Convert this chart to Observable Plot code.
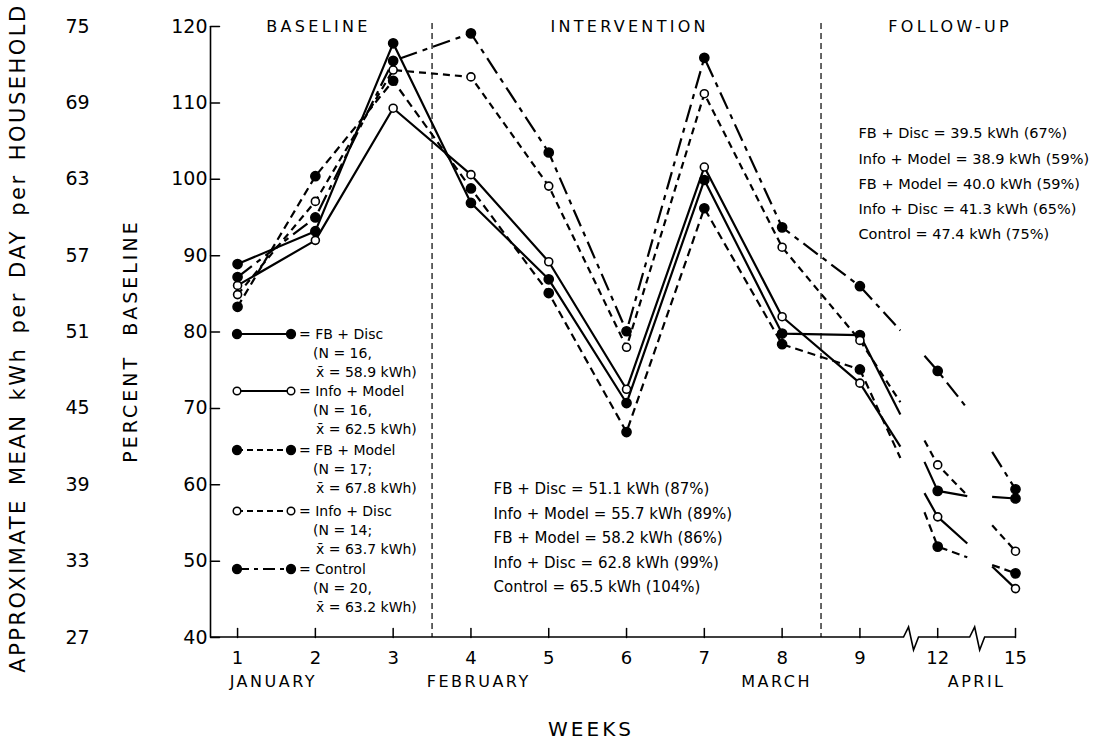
<!DOCTYPE html>
<html><head><meta charset="utf-8">
<script src="https://cdn.jsdelivr.net/npm/d3@7"></script>
<script src="https://cdn.jsdelivr.net/npm/@observablehq/plot@0.6"></script>
<style>
body{margin:0;background:#fff;}
svg text{font-family:"DejaVu Sans",sans-serif;fill:#000;}
</style></head><body><div id="chart"></div>
<script>
// ---- data ----
const weekLabels = ["1","2","3","4","5","6","7","8","9","12","15"];
const positions  = [1,2,3,4,5,6,7,8,9,10,11];
const seriesNames = ["FB + Disc","Info + Model","FB + Model","Info + Disc","Control"];
const fbDisc    = [88.9, 93.2, 117.8, 96.9, 86.9, 70.7, 99.9, 79.8, 79.6, 59.2, 58.2];
const infoModel = [86.1, 92.0, 109.3, 100.6, 89.2, 72.5, 101.6, 82.0, 73.3, 55.8, 46.4];
const fbModel   = [83.3, 100.4, 112.9, 98.8, 85.1, 66.9, 96.2, 78.4, 75.1, 51.9, 48.4];
const infoDisc  = [84.9, 97.1, 114.3, 113.4, 99.1, 78.0, 111.2, 91.1, 78.9, 62.6, 51.3];
const control   = [87.2, 95.0, 115.5, 119.1, 103.5, 80.1, 115.9, 93.7, 86.0, 74.9, 59.4];
// partial segments across the axis breaks (series order as seriesNames)
const stubPos      = [9.52, 9.83, 10.38, 10.70];
const stubAfter9   = [69.2, 65.0, 63.5, 70.8, 80.2];
const stubBefore12 = [63.0, 58.9, 56.4, 65.8, 76.9];
const stubAfter12  = [58.5, 52.3, 50.5, 58.6, 70.0];
const stubBefore15 = [58.4, 49.3, 49.5, 54.7, 64.3];
const percentTicks = [40,50,60,70,80,90,100,110,120];
const kwhLabels    = ["27","33","39","45","51","57","63","69","75"];
const phaseNames = ["BASELINE","INTERVENTION","FOLLOW-UP"];
const phasePos   = [2.04, 6.04, 10.16];
const phaseBounds = [3.5, 8.5];
const monthNames = ["JANUARY","FEBRUARY","MARCH","APRIL"];
const monthPos   = [1.46, 4.1, 7.93, 10.5];
const axisBreaks = [9.67, 10.52];
const yTitle  = "PERCENT BASELINE";
const y2Title = "APPROXIMATE MEAN kWh per DAY per HOUSEHOLD";
const xTitle  = "WEEKS";
const legendN    = ["(N = 16,","(N = 16,","(N = 17;","(N = 14;","(N = 20,"];
const legendMean = ["58.9","62.5","67.8","63.7","63.2"];
const interventionText = ["FB + Disc = 51.1 kWh (87%)","Info + Model = 55.7 kWh (89%)","FB + Model = 58.2 kWh (86%)","Info + Disc = 62.8 kWh (99%)","Control = 65.5 kWh (104%)"];
const followupText = ["FB + Disc = 39.5 kWh (67%)","Info + Model = 38.9 kWh (59%)","FB + Model = 40.0 kWh (59%)","Info + Disc = 41.3 kWh (65%)","Control = 47.4 kWh (75%)"];

const values = [fbDisc, infoModel, fbModel, infoDisc, control];
const styleOf = [
  {dash: null, filled: true},
  {dash: null, filled: false},
  {dash: "8,5", filled: true},
  {dash: "7,5", filled: false},
  {dash: "18,6,5,6", filled: true}
];
const xDomain = [0.652, 11];

const marks = [];
seriesNames.forEach((name, s) => {
  const v = values[s];
  const rows = [];
  for (let i = 0; i < 9; i++) rows.push({seg: 0, x: positions[i], y: v[i]});
  rows.push({seg: 1, x: positions[8], y: v[8]}, {seg: 1, x: stubPos[0], y: stubAfter9[s]});
  rows.push({seg: 2, x: stubPos[1], y: stubBefore12[s]}, {seg: 2, x: positions[9], y: v[9]}, {seg: 2, x: stubPos[2], y: stubAfter12[s]});
  rows.push({seg: 3, x: stubPos[3], y: stubBefore15[s]}, {seg: 3, x: positions[10], y: v[10]});
  marks.push(Plot.line(rows, {x: "x", y: "y", z: "seg", stroke: "black", strokeWidth: 2.2,
    strokeDasharray: styleOf[s].dash, strokeLinecap: "butt"}));
});
seriesNames.forEach((name, s) => {
  const pts = positions.map((p, i) => ({x: p, y: values[s][i]}));
  marks.push(styleOf[s].filled
    ? Plot.dot(pts, {x: "x", y: "y", r: 4.6, fill: "black", stroke: "black"})
    : Plot.dot(pts, {x: "x", y: "y", r: 4, fill: "white", stroke: "black", strokeWidth: 1.6}));
});

const tickShape = {draw(context, l) { context.moveTo(0, 0); context.lineTo(0, -l); }};

const chart = Plot.plot({
  width: 1109, height: 746,
  marginLeft: 210, marginRight: 94, marginTop: 26, marginBottom: 109,
  style: {fontFamily: "DejaVu Sans", background: "white", color: "black", overflow: "visible"},
  x: {domain: xDomain, axis: null},
  y: {domain: [40, 120], axis: null},
  marks: [
    Plot.ruleX(phaseBounds, {stroke: "black", strokeWidth: 1.2, strokeDasharray: "6,4", insetTop: -3}),
    Plot.ruleX([xDomain[0]], {stroke: "black", strokeWidth: 1.6}),
    Plot.vector(percentTicks, {y: d => d, frameAnchor: "left", rotate: 90, length: 9, anchor: "start", shape: tickShape, stroke: "black", strokeWidth: 1.5}),
    Plot.vector(positions, {x: d => d, frameAnchor: "bottom", rotate: 0, length: 9, anchor: "start", shape: tickShape, stroke: "black", strokeWidth: 1.5}),
    Plot.axisY({ticks: percentTicks, tickSize: 0, tickPadding: 3, fontSize: 19, label: null}),
    Plot.axisX({ticks: positions, tickFormat: d => weekLabels[d - 1], tickSize: 0, tickPadding: 14, fontSize: 18, label: null}),
    Plot.text(percentTicks, {y: d => d, text: (d, i) => kwhLabels[i], frameAnchor: "left", textAnchor: "middle", dx: -133, fontSize: 19}),
    Plot.text([yTitle], {frameAnchor: "left", textAnchor: "middle", dx: -80, dy: 9, rotate: -90, fontSize: 19}),
    Plot.text([y2Title], {frameAnchor: "left", textAnchor: "middle", dx: -192, dy: 6, rotate: -90, fontSize: 21}),
    Plot.text(phaseNames, {x: (d, i) => phasePos[i], text: d => d, frameAnchor: "top", dy: -6, fontSize: 16}),
    Plot.text(monthNames, {x: (d, i) => monthPos[i], text: d => d, frameAnchor: "bottom", dy: 49, fontSize: 16}),
    Plot.text([xTitle], {frameAnchor: "bottom", dx: -22, dy: 98, fontSize: 20}),
    Plot.text([interventionText.join("\n")], {frameAnchor: "top-left", dx: 283, dy: 450, textAnchor: "start", lineAnchor: "top", lineHeight: 1.64, fontSize: 15}),
    Plot.text([followupText.join("\n")], {frameAnchor: "top-left", dx: 648, dy: 94, textAnchor: "start", lineAnchor: "top", lineHeight: 1.74, fontSize: 14.5}),
    ...marks
  ]
});
document.getElementById("chart").appendChild(chart);
const svg = d3.select(chart);

// letter spacing to mimic the lettering of the original
const spacing = (list, ls, ws) => svg.selectAll("text")
  .filter(function () { return list.includes(this.textContent); })
  .style("letter-spacing", ls + "px").style("word-spacing", (ws || 0) + "px");
spacing(phaseNames, 3.3);
spacing(monthNames, 2.5);
spacing([xTitle], 3);
spacing([yTitle], 3, 10);
spacing([y2Title], 2.5, 4);

// bottom axis line with break marks
const sx = chart.scale("x");
const x0 = sx.apply(xDomain[0]), x1 = sx.apply(xDomain[1]);
const yb = 746 - 109;
let path = `M${x0},${yb}`;
axisBreaks.forEach(b => {
  const bx = sx.apply(b);
  path += `H${bx - 8}L${bx - 3},${yb - 10}L${bx + 2},${yb + 13}L${bx + 7},${yb}`;
});
path += `H${x1}`;
svg.append("path").attr("d", path).attr("fill", "none").attr("stroke", "black").attr("stroke-width", 1.6);

// legend
const legendRowY = [334, 391, 450, 511, 569];
const lg = svg.append("g").attr("text-anchor", "start");
seriesNames.forEach((name, s) => {
  const y = legendRowY[s];
  lg.append("line").attr("x1", 237).attr("x2", 291).attr("y1", y).attr("y2", y)
    .attr("stroke", "black").attr("stroke-width", 2)
    .attr("stroke-dasharray", styleOf[s].dash === "18,6,5,6" ? "12,5,4,5" : styleOf[s].dash ? "6,4" : null);
  [237, 291].forEach(cx => {
    lg.append("circle").attr("cx", cx).attr("cy", y).attr("r", styleOf[s].filled ? 4.4 : 3.8)
      .attr("fill", styleOf[s].filled ? "black" : "white").attr("stroke", "black").attr("stroke-width", 1.5);
  });
  const t = (tx, ty, str) => lg.append("text").attr("x", tx).attr("y", ty).attr("dy", "0.35em")
    .attr("text-anchor", "start").attr("font-size", 14).text(str);
  t(299, y, "= " + name);
  t(313, y + 19, legendN[s]);
  t(316, y + 38, "x\u0304 = " + legendMean[s] + " kWh)");
});
</script></body></html>
